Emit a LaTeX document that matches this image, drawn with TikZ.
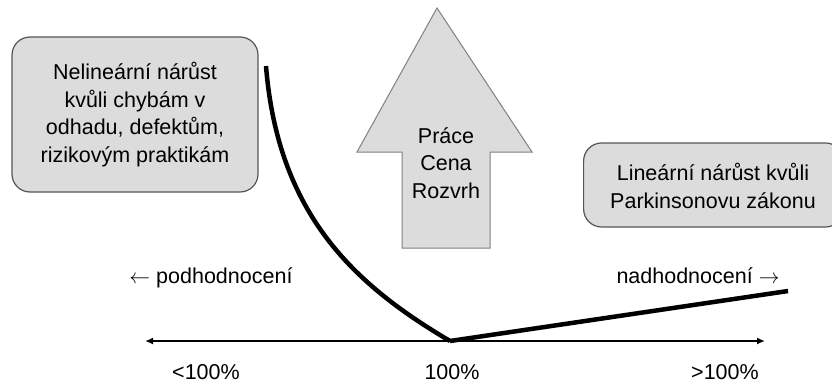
\documentclass[tikz,border=0pt]{standalone}
\usepackage{fontspec}
\setmainfont{Liberation Sans}
\usetikzlibrary{arrows.meta}
\definecolor{boxgray}{HTML}{DCDCDC}
\definecolor{edgegray}{HTML}{555555}
\tikzset{
  txt/.style={font=\fontsize{21.5}{27.5}\selectfont, inner sep=0pt, align=center},
  infobox/.style={txt, draw=edgegray, line width=1.2pt, fill=boxgray, rounded corners=18pt},
  curveline/.style={line width=4.5pt, line join=round},
  axisline/.style={line width=1.6pt, {Latex[length=8pt,width=7pt]}-{Latex[length=8pt,width=7pt]}}
}
\begin{document}
\begin{tikzpicture}[x=1pt,y=-1pt]
\useasboundingbox (0,0) rectangle (832,383);
% left box
\node[infobox, minimum width=246pt, minimum height=155pt] (lbox) at (135,114.5)
  {Nelineární nárůst\\kvůli chybám v\\odhadu, defektům,\\rizikovým praktikám};
% right box
\node[infobox, minimum width=260pt, minimum height=84pt, anchor=west] (rbox) at (583,185) {};
\node[txt] (rtext) at (713,186) {Lineární nárůst kvůli\\Parkinsonovu zákonu};
% big arrow
\draw[draw=gray, fill=boxgray, line width=1pt]
  (437,8) -- (532,152) -- (490,152) -- (490,248) -- (402,248) -- (402,152) -- (357,152) -- cycle;
\node[txt] (atext) at (446,163) {Práce\\Cena\\Rozvrh};
% axis
\coordinate (axl) at (145,341);
\coordinate (axr) at (765,341);
\draw[axisline] (axl) -- (axr);
% curves
\coordinate (c0) at (266,66);
\coordinate (c1) at (450,341);
\coordinate (c2) at (788,291);
\draw[curveline] (c0) .. controls (278,215) and (355,285) .. (c1);
\draw[curveline] (c1) -- (c2);
% labels
\node[txt] (under) at (211,278) {$\leftarrow$ podhodnocení};
\node[txt] (over) at (698,276) {nadhodnocení $\rightarrow$};
\node[txt, anchor=base] (lt) at (206,379) {<100\%};
\node[txt, anchor=base] (eq) at (452,379) {100\%};
\node[txt, anchor=base] (gt) at (725,379) {>100\%};
\end{tikzpicture}
\end{document}
